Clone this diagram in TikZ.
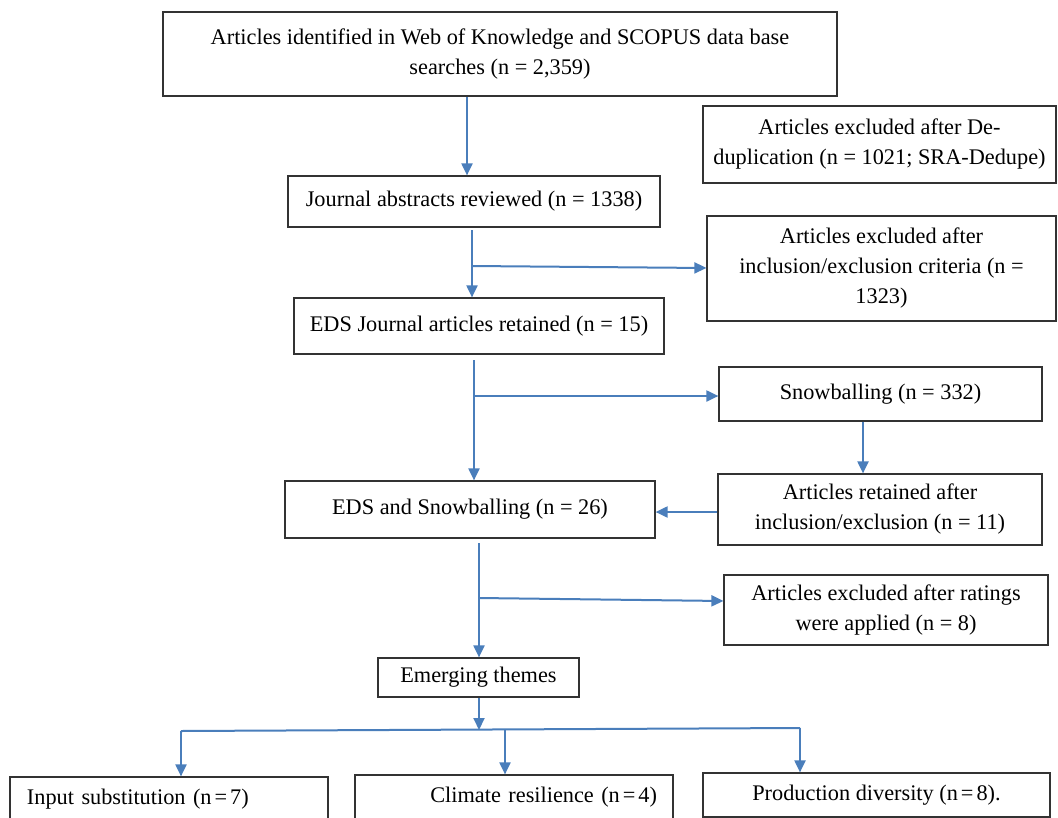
\documentclass[tikz,border=0pt]{standalone}
\usepackage{fontspec}
\setmainfont{Liberation Serif}
\usetikzlibrary{arrows.meta}
\definecolor{arrblue}{HTML}{4A7EBB}
\definecolor{boxline}{HTML}{333333}
\newcommand{\tq}{\kern3pt=\kern3pt}
\begin{document}
\begin{tikzpicture}[x=1pt,y=-1pt,
  box/.style={draw=boxline, line width=1.2pt, align=center, inner sep=0pt,
    font=\fontsize{22.3}{30}\selectfont},
  arr/.style={draw=arrblue, line width=2pt, -{Triangle[length=12pt,width=11pt]}},
  ln/.style={draw=arrblue, line width=2pt}]
\useasboundingbox (0,0) rectangle (1058,817);
\clip (0,0) rectangle (1058,817);

\node[box, minimum width=674pt, minimum height=84pt] (top) at (500,54)
  {Articles identified in Web of Knowledge and SCOPUS data base\\searches (n = 2,359)};
\node[box, minimum width=353pt, minimum height=77pt] (dedup) at (879.5,144.5)
  {Articles excluded after De-\\duplication (n = 1021; SRA-Dedupe)};
\node[box, minimum width=372pt, minimum height=51pt] (jour) at (474,201.5)
  {Journal abstracts reviewed (n = 1338)};
\node[box, minimum width=349pt, minimum height=105pt] (excl) at (881.5,268.5)
  {Articles excluded after\\inclusion/exclusion criteria (n =\\1323)};
\node[box, minimum width=370pt, minimum height=56pt] (eds) at (479,326)
  {EDS Journal articles retained (n = 15)};
\node[box, minimum width=323pt, minimum height=54pt] (snow) at (880.5,394)
  {Snowballing (n = 332)};
\node[box, minimum width=370pt, minimum height=57pt] (edssnow) at (470,509.5)
  {EDS and Snowballing (n = 26)};
\node[box, minimum width=324pt, minimum height=71pt] (ret) at (880,509.5)
  {Articles retained after\\inclusion/exclusion (n = 11)};
\node[box, minimum width=324pt, minimum height=70pt] (rate) at (886,610)
  {Articles excluded after ratings\\were applied (n = 8)};
\node[box, minimum width=201pt, minimum height=39pt] (emg) at (478.5,677.5)
  {Emerging themes};
\node[box, minimum width=318pt, minimum height=44pt, text width=284pt, align=left, inner xsep=17pt] (inp) at (169,799)
  {Input substitution (n\tq7)};
\node[box, minimum width=318pt, minimum height=44pt, text width=286pt, align=right, inner xsep=16pt] (clim) at (514,797)
  {Climate resilience (n\tq4)};
\node[box, minimum width=347pt, minimum height=44pt] (prod) at (876.5,795)
  {Production diversity (n\tq8).};

% connectors
\coordinate (s1) at (467,97);
\draw[arr] (s1) -- (s1 |- jour.north);

\coordinate (s2) at (472,230);
\coordinate (b2) at (472,266);
\draw[arr] (s2) -- (s2 |- eds.north);
\draw[arr] (b2) -- (excl.west |- 0,268);

\coordinate (s3) at (474,360);
\coordinate (b3) at (474,396);
\draw[arr] (s3) -- (s3 |- edssnow.north);
\draw[arr] (b3) -- (snow.west |- b3);

\draw[arr] (snow.south -| 863,0) -- (ret.north -| 863,0);
\draw[arr] (ret.west |- 0,512) -- (edssnow.east |- 0,512);

\coordinate (s4) at (479,543);
\coordinate (b4) at (479,598);
\draw[arr] (s4) -- (s4 |- emg.north);
\draw[arr] (b4) -- (rate.west |- 0,601);

\coordinate (jl) at (181,731);
\coordinate (jr) at (800,728);
\coordinate (jc) at (479,730);
\coordinate (jm) at (505,729.5);
\draw[arr] (emg.south -| jc) -- (jc);
\draw[ln] (jl) -- (jr);
\draw[arr] (jl) -- (jl |- inp.north);
\draw[arr] (jm) -- (jm |- clim.north);
\draw[arr] (jr) -- (jr |- prod.north);
\end{tikzpicture}
\end{document}
